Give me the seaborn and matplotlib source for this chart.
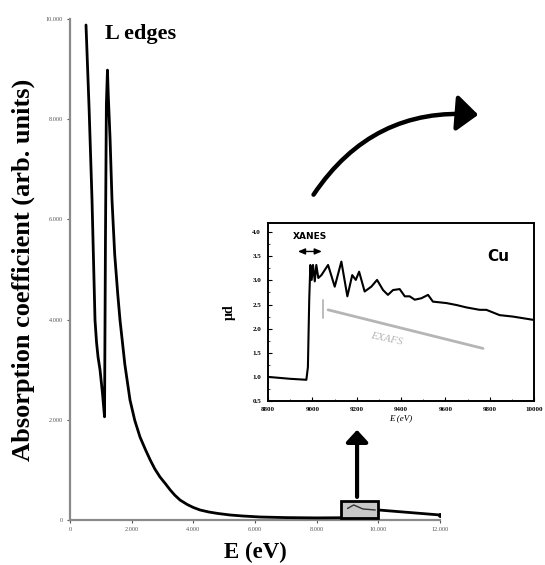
import matplotlib
matplotlib.use('Agg')
import matplotlib.pyplot as plt
import seaborn as sns
from matplotlib.ticker import FuncFormatter, AutoMinorLocator
from matplotlib.patches import Rectangle, FancyArrowPatch

# ---------------- data ----------------
main_energy = [519, 620, 714, 811, 860, 910, 973, 1050, 1120, 1150, 1180, 1215, 1240,
               1300, 1362, 1450, 1550, 1622, 1780, 1946, 2100, 2270, 2450, 2600,
               2750, 2919, 3100, 3250, 3400, 3568, 3800, 4000, 4217, 4500, 4800,
               5190, 5600, 6163, 7000, 8000, 8800, 8980, 9000, 10000, 11000, 12000]
main_absorption = [9880, 8200, 6390, 3990, 3550, 3250, 3000, 2550, 2060, 5600, 8300, 8980, 8500,
                   7600, 6390, 5300, 4500, 3990, 3100, 2395, 1990, 1657, 1400, 1200,
                   1020, 858, 720, 600, 495, 399, 310, 250, 200, 160, 130,
                   100, 80, 60, 48, 42, 45, 45, 230, 200, 150, 100]
main_xticks = [0, 2000, 4000, 6000, 8000, 10000, 12000]
main_yticks = [0, 2000, 4000, 6000, 8000, 10000]

inset_energy = [8800, 8850, 8900, 8973, 8980, 8986, 8991, 8997, 9003, 9011, 9018,
                9027, 9041, 9071, 9101, 9131, 9158, 9180, 9196, 9211, 9236, 9266,
                9292, 9319, 9341, 9364, 9394, 9417, 9439, 9462, 9492, 9522, 9544,
                9605, 9650, 9695, 9755, 9785, 9845, 9905, 10000]
inset_mu = [1.00, 0.98, 0.96, 0.94, 1.20, 2.60, 3.32, 3.01, 3.32, 2.98, 3.32,
            3.05, 3.11, 3.32, 2.87, 3.39, 2.67, 3.11, 3.01, 3.18, 2.77, 2.87,
            3.01, 2.80, 2.70, 2.80, 2.82, 2.67, 2.67, 2.60, 2.63, 2.70, 2.56,
            2.53, 2.49, 2.44, 2.39, 2.39, 2.28, 2.25, 2.18]
inset_xticks = [8800, 9000, 9200, 9400, 9600, 9800, 10000]
inset_yticks = [0.5, 1.0, 1.5, 2.0, 2.5, 3.0, 3.5, 4.0]

# ---------------- style ----------------
sns.set_theme(style='white')
plt.rcParams['font.family'] = ['Liberation Serif', 'DejaVu Serif']
plt.rcParams['text.color'] = 'black'
plt.rcParams['axes.labelcolor'] = 'black'

W, H = 545, 565
fig = plt.figure(figsize=(W / 100, H / 100), dpi=100)
fig.patch.set_facecolor('white')

def fx(px):
    return px / W

def fy(py):
    return 1 - py / H

# ---------------- main axes ----------------
ax = fig.add_axes([fx(70), fy(520), fx(440) - fx(70), fy(19) - fy(520)])
sns.lineplot(x=main_energy, y=main_absorption, ax=ax, color='black', lw=2.0,
             sort=False, zorder=3)
ax.set_xlim(0, 12000)
ax.set_ylim(0, 10000)
ax.set_xticks(main_xticks)
ax.set_yticks(main_yticks)
fmt = FuncFormatter(lambda v, _: '0' if v == 0 else f'{int(v):,}'.replace(',', '.'))
ax.xaxis.set_major_formatter(fmt)
ax.yaxis.set_major_formatter(fmt)
ax.tick_params(axis='both', labelsize=4.5, length=2, width=0.8, colors='#555555',
               pad=3, bottom=True, left=True)
for s in ['top', 'right']:
    ax.spines[s].set_visible(False)
for s in ['left', 'bottom']:
    ax.spines[s].set_color('#8a8a8a')
    ax.spines[s].set_linewidth(1.6)
ax.set_facecolor('none')
ax.set_xlabel('E (eV)', fontsize=16.5, fontweight='bold', labelpad=7, color='black')
ax.set_ylabel('Absorption coefficient (arb. units)', fontsize=19,
              fontweight='bold', labelpad=8, color='black')
ax.text(1150, 9700, 'L edges', fontsize=16, fontweight='bold', ha='left',
        va='center', color='black')

# small box around the K edge region
ax.add_patch(Rectangle((8800, 40), 1200, 330, facecolor='#c8c8c8',
                       edgecolor='black', lw=2, zorder=4))
ax.plot([9000, 9200, 9500, 9900], [230, 300, 220, 200], color='#333333', lw=1, zorder=5)
ax.plot([12000], [100], 'o', color='black', ms=2.5, zorder=5)

# vertical arrow
ax.annotate('', xy=(9310, 1800), xytext=(9310, 460),
            arrowprops=dict(arrowstyle='-|>,head_width=0.55,head_length=0.6',
                            lw=3, color='black', shrinkA=0, shrinkB=0), zorder=6)

# curved arrow
arr = FancyArrowPatch((fx(312), fy(197)), (fx(481), fy(115)),
                      transform=fig.transFigure,
                      connectionstyle='arc3,rad=-0.3',
                      arrowstyle='-|>,head_width=0.55,head_length=0.65',
                      mutation_scale=20, lw=3.2, color='black')
fig.patches.append(arr)

# ---------------- inset ----------------
ia = fig.add_axes([fx(268), fy(401), fx(534) - fx(268), fy(223) - fy(401)])
sns.lineplot(x=inset_energy, y=inset_mu, ax=ia, color='black', lw=1.5, sort=False)
ia.set_xlim(8800, 10000)
ia.set_ylim(0.5, 4.19)
ia.set_xticks(inset_xticks)
ia.set_yticks(inset_yticks)
ia.xaxis.set_minor_locator(AutoMinorLocator(2))
ia.yaxis.set_minor_locator(AutoMinorLocator(2))
ia.yaxis.set_major_formatter(FuncFormatter(lambda v, _: f'{v:.1f}'))
ia.tick_params(axis='both', which='major', labelsize=5, length=3, width=0.8,
               direction='in', colors='black', bottom=True, left=True)
ia.tick_params(axis='x', which='major', pad=4)
ia.tick_params(axis='y', which='major', pad=5)
ia.tick_params(axis='both', which='minor', length=1.5, width=0.6,
               direction='in', bottom=True, left=True)
for lab in ia.get_xticklabels() + ia.get_yticklabels():
    lab.set_fontweight('bold')
for s in ia.spines.values():
    s.set_color('black')
    s.set_linewidth(1.4)
ia.set_facecolor('white')
ia.set_xlabel('E (eV)', fontsize=6.5, fontstyle='italic', labelpad=2, color='black')
ia.set_ylabel('µd', fontsize=10, fontweight='bold', labelpad=12, color='black')

ia.annotate('', xy=(8935, 3.6), xytext=(9043, 3.6),
            arrowprops=dict(arrowstyle='<|-|>,head_width=0.15,head_length=0.35',
                            lw=1, color='black', shrinkA=0, shrinkB=0))
ia.text(8990, 3.92, 'XANES', fontsize=6.5, fontweight='bold', ha='center',
        va='center', family=['DejaVu Sans'], color='black')
ia.text(9838, 3.5, 'Cu', fontsize=11, fontweight='bold', ha='center', va='center',
        family=['DejaVu Sans'], color='black')
ia.plot([9048, 9048], [2.22, 2.60], color='#b5b5b5', lw=1.3)
ia.plot([9071, 9770], [2.39, 1.59], color='#b5b5b5', lw=2)
ia.text(9334, 1.79, 'EXAFS', fontsize=8, fontstyle='italic', color='#b5b5b5',
        rotation=-12, ha='center', va='center')

fig.savefig('out.png', dpi=100, facecolor='white')
